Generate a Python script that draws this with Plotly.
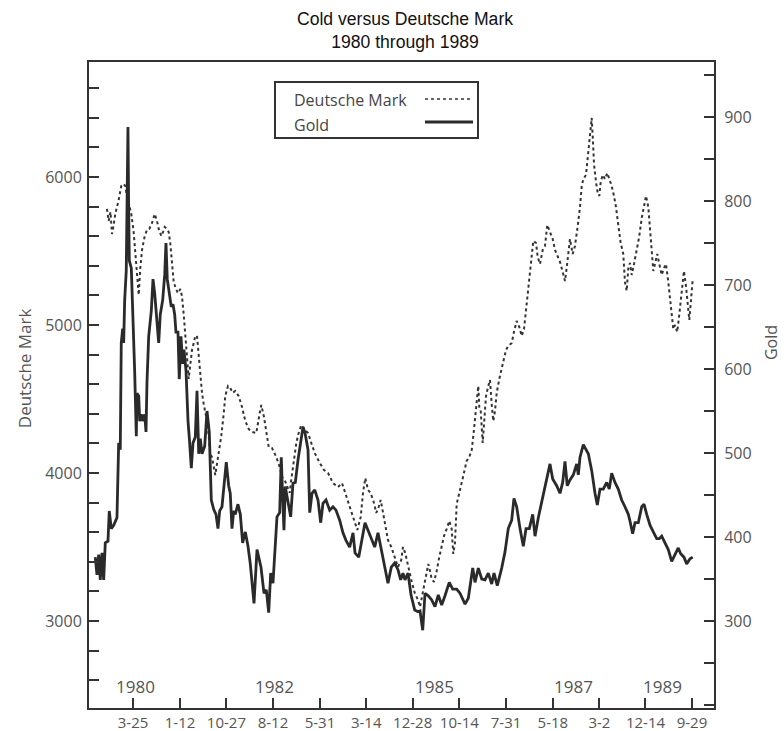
import plotly.graph_objects as go

# ---- data (decimal year, value) ----
gold_year = [1979.588, 1979.617, 1979.646, 1979.673, 1979.702, 1979.731, 1979.758, 1979.804, 1979.826, 1979.860,
             1979.901, 1979.957, 1979.986, 1980.013, 1980.030, 1980.054, 1980.071, 1980.088, 1980.115, 1980.144,
             1980.156, 1980.167, 1980.201, 1980.230, 1980.258, 1980.286, 1980.298, 1980.327, 1980.344, 1980.371,
             1980.395, 1980.429, 1980.451, 1980.468, 1980.497, 1980.541, 1980.570, 1980.599, 1980.626, 1980.667,
             1980.694, 1980.735, 1980.769, 1980.791, 1980.813, 1980.847, 1980.881, 1980.910, 1980.939, 1980.961,
             1980.995, 1981.017, 1981.046, 1981.075, 1981.097, 1981.132, 1981.166, 1981.194, 1981.222, 1981.251,
             1981.290, 1981.319, 1981.348, 1981.375, 1981.404, 1981.450, 1981.489, 1981.528, 1981.562, 1981.603,
             1981.642, 1981.676, 1981.705, 1981.744, 1981.790, 1981.817, 1981.858, 1981.885, 1981.914, 1981.943,
             1981.970, 1982.016, 1982.056, 1982.096, 1982.141, 1982.187, 1982.226, 1982.289, 1982.340, 1982.408,
             1982.459, 1982.498, 1982.539, 1982.573, 1982.612, 1982.641, 1982.680, 1982.726, 1982.753, 1982.770,
             1982.799, 1982.821, 1982.867, 1982.913, 1982.952, 1982.992, 1983.038, 1983.083, 1983.123, 1983.157,
             1983.208, 1983.237, 1983.276, 1983.322, 1983.378, 1983.424, 1983.463, 1983.514, 1983.577, 1983.633,
             1983.684, 1983.747, 1983.803, 1983.854, 1983.917, 1983.974, 1984.008, 1984.071, 1984.127, 1984.178,
             1984.229, 1984.280, 1984.343, 1984.399, 1984.445, 1984.484, 1984.518, 1984.569, 1984.625, 1984.683,
             1984.739, 1984.785, 1984.824, 1984.858, 1984.910, 1984.961, 1985.024, 1985.080, 1985.114, 1985.160,
             1985.199, 1985.255, 1985.313, 1985.369, 1985.425, 1985.483, 1985.539, 1985.612, 1985.670, 1985.738,
             1985.794, 1985.880, 1985.936, 1986.011, 1986.050, 1986.106, 1986.164, 1986.220, 1986.276, 1986.334,
             1986.373, 1986.429, 1986.504, 1986.560, 1986.616, 1986.674, 1986.713, 1986.759, 1986.816, 1986.872,
             1986.918, 1986.974, 1987.032, 1987.071, 1987.127, 1987.185, 1987.241, 1987.280, 1987.326, 1987.372,
             1987.440, 1987.496, 1987.542, 1987.581, 1987.620, 1987.666, 1987.723, 1987.780, 1987.808, 1987.837,
             1987.893, 1987.978, 1988.036, 1988.092, 1988.131, 1988.177, 1988.233, 1988.291, 1988.335, 1988.376,
             1988.432, 1988.488, 1988.546, 1988.602, 1988.659, 1988.687, 1988.733, 1988.773, 1988.829, 1988.887,
             1988.926, 1988.972, 1989.028, 1989.084, 1989.142, 1989.186, 1989.227, 1989.283, 1989.339, 1989.397,
             1989.453, 1989.509, 1989.550, 1989.606, 1989.652, 1989.709, 1989.755]
gold_price = [376, 355, 379, 349, 381, 349, 393, 395, 431, 410,
              414, 423, 512, 504, 631, 648, 631, 682, 717, 888,
              793, 729, 720, 665, 598, 520, 571, 568, 538, 546,
              538, 546, 525, 585, 639, 669, 707, 690, 665, 631,
              665, 682, 712, 750, 707, 690, 674, 677, 665, 644,
              644, 588, 639, 606, 623, 598, 538, 512, 482, 512,
              519, 574, 499, 517, 499, 508, 550, 525, 444, 433,
              427, 410, 431, 436, 469, 489, 461, 452, 410, 431,
              427, 439, 427, 393, 406, 389, 368, 321, 385, 364,
              333, 337, 310, 357, 345, 376, 424, 429, 495, 460,
              408, 460, 444, 424, 464, 465, 492, 515, 531, 524,
              504, 429, 452, 456, 444, 417, 440, 444, 432, 436,
              432, 420, 405, 396, 388, 405, 381, 376, 396, 417,
              408, 400, 388, 405, 388, 373, 361, 345, 364, 369,
              361, 349, 357, 349, 357, 331, 313, 311, 312, 289,
              333, 330, 325, 317, 331, 319, 330, 346, 338, 338,
              333, 320, 327, 363, 346, 363, 350, 349, 357, 344,
              357, 342, 363, 382, 410, 420, 446, 436, 410, 389,
              410, 410, 427, 401, 423, 442, 457, 469, 487, 469,
              461, 452, 465, 490, 461, 468, 474, 487, 474, 495,
              510, 499, 479, 452, 438, 457, 457, 465, 457, 476,
              465, 457, 444, 436, 427, 419, 404, 417, 417, 436,
              439, 427, 414, 406, 398, 398, 401, 393, 385, 371,
              380, 387, 380, 376, 368, 374, 376]

dm_year = [1979.787, 1979.816, 1979.847, 1979.872, 1979.901, 1979.928, 1979.986, 1980.030, 1980.071, 1980.098,
           1980.127, 1980.156, 1980.201, 1980.241, 1980.269, 1980.298, 1980.327, 1980.354, 1980.383, 1980.429,
           1980.468, 1980.507, 1980.553, 1980.599, 1980.638, 1980.667, 1980.711, 1980.740, 1980.769, 1980.808,
           1980.837, 1980.864, 1980.893, 1980.922, 1980.961, 1980.995, 1981.035, 1981.063, 1981.092, 1981.120,
           1981.149, 1981.177, 1981.205, 1981.234, 1981.263, 1981.290, 1981.319, 1981.348, 1981.375, 1981.404,
           1981.433, 1981.460, 1981.489, 1981.518, 1981.545, 1981.574, 1981.603, 1981.630, 1981.659, 1981.688,
           1981.732, 1981.773, 1981.800, 1981.846, 1981.885, 1981.926, 1981.970, 1982.028, 1982.085, 1982.141,
           1982.199, 1982.255, 1982.328, 1982.386, 1982.413, 1982.459, 1982.498, 1982.539, 1982.595, 1982.668,
           1982.726, 1982.765, 1982.811, 1982.855, 1982.896, 1982.923, 1982.969, 1983.009, 1983.049, 1983.094,
           1983.152, 1983.208, 1983.264, 1983.322, 1983.407, 1983.480, 1983.548, 1983.633, 1983.718, 1983.786,
           1983.842, 1983.917, 1983.991, 1984.047, 1984.105, 1984.144, 1984.183, 1984.229, 1984.275, 1984.331,
           1984.370, 1984.411, 1984.445, 1984.484, 1984.523, 1984.569, 1984.625, 1984.683, 1984.739, 1984.795,
           1984.824, 1984.863, 1984.910, 1984.966, 1985.024, 1985.080, 1985.114, 1985.170, 1985.216, 1985.255,
           1985.284, 1985.313, 1985.352, 1985.398, 1985.442, 1985.483, 1985.522, 1985.568, 1985.612, 1985.653,
           1985.680, 1985.709, 1985.738, 1985.783, 1985.823, 1985.862, 1985.908, 1985.953, 1985.994, 1986.021,
           1986.050, 1986.079, 1986.106, 1986.123, 1986.147, 1986.181, 1986.203, 1986.237, 1986.276, 1986.305,
           1986.334, 1986.361, 1986.390, 1986.419, 1986.463, 1986.521, 1986.577, 1986.616, 1986.674, 1986.713,
           1986.759, 1986.804, 1986.844, 1986.884, 1986.930, 1986.957, 1986.986, 1987.015, 1987.042, 1987.088,
           1987.117, 1987.156, 1987.202, 1987.241, 1987.280, 1987.326, 1987.372, 1987.411, 1987.457, 1987.496,
           1987.542, 1987.581, 1987.610, 1987.637, 1987.666, 1987.712, 1987.751, 1987.791, 1987.837, 1987.866,
           1987.893, 1987.939, 1987.978, 1988.007, 1988.036, 1988.053, 1988.075, 1988.109, 1988.138, 1988.165,
           1988.189, 1988.223, 1988.262, 1988.301, 1988.335, 1988.376, 1988.415, 1988.449, 1988.488, 1988.529,
           1988.573, 1988.602, 1988.631, 1988.659, 1988.687, 1988.716, 1988.756, 1988.801, 1988.846, 1988.887,
           1988.926, 1988.960, 1988.999, 1989.028, 1989.057, 1989.084, 1989.113, 1989.152, 1989.186, 1989.227,
           1989.266, 1989.300, 1989.339, 1989.368, 1989.397, 1989.424, 1989.453, 1989.492, 1989.527, 1989.567,
           1989.606, 1989.640, 1989.669, 1989.697, 1989.726, 1989.755]
dm_value = [5784, 5703, 5764, 5615, 5676, 5750, 5845, 5939, 5953, 5939,
            5872, 5818, 5750, 5628, 5480, 5311, 5203, 5385, 5507, 5601,
            5642, 5649, 5689, 5750, 5703, 5649, 5601, 5628, 5662, 5649,
            5628, 5554, 5432, 5291, 5243, 5216, 5243, 5196, 5074, 4953,
            4784, 4635, 4736, 4831, 4878, 4926, 4926, 4784, 4635, 4541,
            4466, 4419, 4351, 4250, 4128, 4108, 4034, 3986, 4061, 4128,
            4250, 4399, 4520, 4588, 4574, 4541, 4554, 4520, 4446, 4351,
            4297, 4277, 4270, 4405, 4459, 4378, 4270, 4176, 4169, 4108,
            4041, 3973, 3953, 3905, 3865, 3953, 4088, 4203, 4270, 4324,
            4291, 4270, 4203, 4135, 4068, 4020, 4000, 3932, 3905, 3932,
            3865, 3770, 3682, 3615, 3703, 3865, 3966, 3885, 3865, 3797,
            3730, 3770, 3818, 3730, 3635, 3547, 3500, 3432, 3365, 3412,
            3500, 3459, 3365, 3277, 3189, 3142, 3095, 3216, 3311, 3385,
            3338, 3284, 3264, 3338, 3432, 3507, 3574, 3622, 3676, 3622,
            3453, 3527, 3791, 3865, 3939, 4014, 4081, 4108, 4155, 4250,
            4351, 4466, 4588, 4446, 4419, 4203, 4351, 4520, 4588, 4628,
            4466, 4351, 4419, 4541, 4635, 4736, 4831, 4858, 4878, 4953,
            5027, 4986, 4926, 4973, 5142, 5264, 5365, 5459, 5568, 5554,
            5459, 5412, 5507, 5534, 5676, 5628, 5581, 5507, 5459, 5426,
            5358, 5297, 5385, 5507, 5581, 5480, 5534, 5649, 5797, 5939,
            5986, 6014, 6155, 6277, 6399, 6277, 6088, 5966, 5892, 5872,
            5966, 6014, 5986, 6027, 5986, 5939, 5872, 5797, 5676, 5554,
            5480, 5291, 5230, 5385, 5419, 5338, 5412, 5507, 5601, 5723,
            5797, 5872, 5797, 5649, 5507, 5365, 5412, 5480, 5412, 5338,
            5385, 5412, 5291, 5169, 5074, 4973, 5000, 4953, 5074, 5216,
            5365, 5264, 5122, 5034, 5169, 5311]

tick_years = [1980.230, 1981.030, 1981.819, 1982.611, 1983.411, 1984.199, 1984.989,
              1985.784, 1986.578, 1987.375, 1988.167, 1988.951, 1989.742]
tick_labels = ["3-25", "1-12", "10-27", "8-12", "5-31", "3-14", "12-28",
               "10-14", "7-31", "5-18", "3-2", "12-14", "9-29"]
year_label_pos = [1980.264, 1982.646, 1985.352, 1987.718, 1989.249]
year_labels = ["1980", "1982", "1985", "1987", "1989"]
dm_ticks = [3000, 4000, 5000, 6000]
gold_ticks = [300, 400, 500, 600, 700, 800, 900]

AX = "#333333"
TXT = "#555555"
FONT = "Open Sans"

fig = go.Figure()
fig.add_trace(go.Scatter(x=dm_year, y=dm_value, name="Deutsche Mark", mode="lines",
                         line=dict(color="#333333", width=2, dash="dot"), yaxis="y"))
fig.add_trace(go.Scatter(x=gold_year, y=gold_price, name="Gold", mode="lines",
                         line=dict(color="#2a2a2a", width=2.8), yaxis="y2"))

tickfont = dict(family=FONT, size=16, color=TXT)

fig.update_layout(
    width=784, height=731,
    margin=dict(l=89, r=70, t=62, b=23),
    paper_bgcolor="white", plot_bgcolor="white",
    showlegend=False,
    title=dict(text="Cold versus Deutsche Mark<br>1980 through 1989",
               x=0.5056, xanchor="center", xref="paper",
               y=1 - 25 / 731, yanchor="middle", yref="container",
               font=dict(family="Liberation Sans, Arial", size=17.6, color="#111111")),
    xaxis=dict(range=[1979.481, 1990.117], tickmode="array", tickvals=tick_years, ticktext=tick_labels,
               ticks="inside", ticklen=10, tickwidth=1.5, tickcolor=AX,
               showline=True, linewidth=2, linecolor=AX, mirror=True,
               showgrid=False, zeroline=False, tickfont=dict(family=FONT, size=15, color=TXT),
               automargin=False, ticklabelstandoff=0),
    yaxis=dict(range=[2412, 6777], tickmode="array", tickvals=dm_ticks,
               ticks="inside", ticklen=10, tickwidth=1.5, tickcolor=AX,
               minor=dict(tickmode="linear", dtick=200, tick0=0, ticks="inside", ticklen=10,
                          tickwidth=1.5, tickcolor=AX),
               showline=True, linewidth=2, linecolor=AX,
               showgrid=False, zeroline=False, tickfont=tickfont, automargin=False,
               ticklabelstandoff=2),
    yaxis2=dict(range=[196.4, 965.5], overlaying="y", side="right", tickmode="array", tickvals=gold_ticks,
                ticks="inside", ticklen=10, tickwidth=1.5, tickcolor=AX,
                minor=dict(tickmode="linear", dtick=50, tick0=0, ticks="inside", ticklen=10,
                           tickwidth=1.5, tickcolor=AX),
                showline=True, linewidth=2, linecolor=AX,
                showgrid=False, zeroline=False, tickfont=tickfont, automargin=False,
                ticklabelstandoff=5),
)

annotations = [
    dict(text="Deutsche Mark", xref="paper", yref="paper", x=-0.104, y=0.526, textangle=-90,
         showarrow=False, font=dict(family=FONT, size=17, color=TXT), xanchor="center", yanchor="middle"),
    dict(text="Gold", xref="paper", yref="paper", x=1.0912, y=0.565, textangle=-90,
         showarrow=False, font=dict(family=FONT, size=16, color=TXT), xanchor="center", yanchor="middle"),
    dict(text="Deutsche Mark", xref="paper", yref="paper", x=0.3248, y=0.9412, xanchor="left", yanchor="middle",
         showarrow=False, font=dict(family=FONT, size=16, color="#444444")),
    dict(text="Gold", xref="paper", yref="paper", x=0.3248, y=0.9025, xanchor="left", yanchor="middle",
         showarrow=False, font=dict(family=FONT, size=16, color="#444444")),
]
for pos, lab in zip(year_label_pos, year_labels):
    annotations.append(dict(text=lab, x=pos, xref="x", y=0.034, yref="paper", showarrow=False,
                            xanchor="center", yanchor="middle", font=dict(family=FONT, size=17, color=TXT)))
fig.update_layout(annotations=annotations)

fig.update_layout(shapes=[
    dict(type="rect", xref="paper", yref="paper", x0=0.2976, x1=0.6224, y0=0.8824, y1=0.9690,
         line=dict(color=AX, width=2), fillcolor="white", layer="above"),
    dict(type="line", xref="paper", yref="paper", x0=0.5376, x1=0.6144, y0=0.9427, y1=0.9427,
         line=dict(color="#333333", width=1.5, dash="dot")),
    dict(type="line", xref="paper", yref="paper", x0=0.5376, x1=0.6144, y0=0.9071, y1=0.9071,
         line=dict(color="#2a2a2a", width=2.8)),
])

fig.write_html("out.html", config={"displayModeBar": False},
               post_script="document.body.style.margin='0px';document.body.style.overflow='hidden';")
